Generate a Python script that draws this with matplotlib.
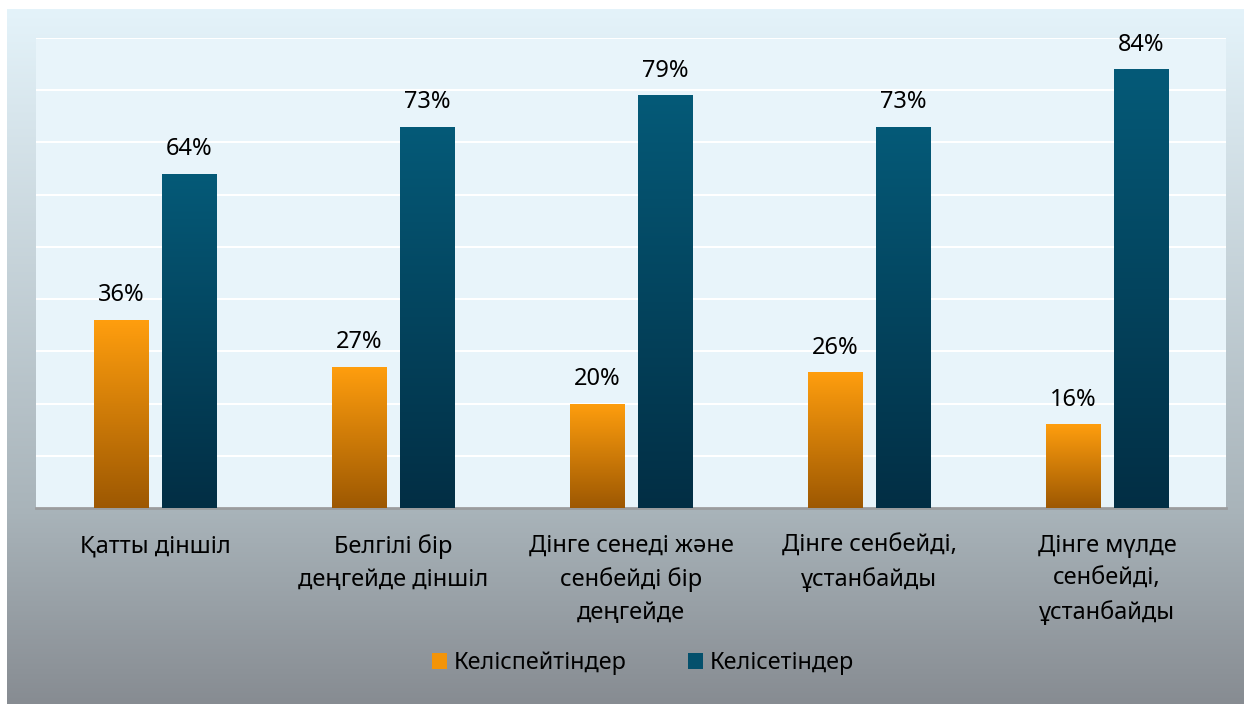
import numpy as np
import matplotlib.pyplot as plt
from matplotlib.colors import LinearSegmentedColormap

plt.rcParams['font.family'] = ['Noto Sans', 'DejaVu Sans']

categories = ['Қатты діншіл', 'Белгілі бір\nдеңгейде діншіл',
              'Дінге сенеді және\nсенбейді бір\nдеңгейде',
              'Дінге сенбейді,\nұстанбайды', 'Дінге мүлде\nсенбейді,\nұстанбайды']
disagree = [36, 27, 20, 26, 16]
agree = [64, 73, 79, 73, 84]
series_names = ['Келіспейтіндер', 'Келісетіндер']

W, H = 1244, 704
fig = plt.figure(figsize=(W / 100, H / 100), dpi=100)
fig.patch.set_facecolor('white')

# outer panel with vertical gradient
bg = fig.add_axes([7 / W, 0, 1 - 7 / W, 1 - 9 / H])
bg_cmap = LinearSegmentedColormap.from_list('bg', [(0, '#e4f3fa'), (0.72, '#a9b4ba'), (1, '#878c92')])
bg.imshow(np.linspace(0, 1, 256).reshape(-1, 1), cmap=bg_cmap, aspect='auto', extent=(0, 1, 1, 0))
bg.set_axis_off()

left, right, top, bottom = 36, 1226, 38, 508
ax = fig.add_axes([left / W, 1 - bottom / H, (right - left) / W, (bottom - top) / H])
ax.set_facecolor('#e8f4fa')
ax.set_yticks(np.arange(0, 91, 10))
ax.yaxis.grid(True, color='white', linewidth=1.5)
ax.set_axisbelow(True)
for s in ['top', 'right', 'left']:
    ax.spines[s].set_visible(False)
ax.spines['bottom'].set_color('#9a9c9e')
ax.spines['bottom'].set_linewidth(2)
ax.tick_params(left=False, labelleft=False, bottom=False, labelbottom=False)

x = np.arange(len(categories))
bw = 0.23
off = (bw + 0.055) / 2
cmaps = [LinearSegmentedColormap.from_list('o', ['#9d5802', '#ff9e0e']),
         LinearSegmentedColormap.from_list('b', ['#022e44', '#055a78'])]
legend_colors = ['#f39408', '#04506c']
grad = np.linspace(0, 1, 256).reshape(-1, 1)

for vals, dx, cm, name, lc in zip([disagree, agree], [-off, off], cmaps, series_names, legend_colors):
    bars = ax.bar(x + dx, vals, bw, color='none', zorder=3)
    for b, v in zip(bars, vals):
        bx, by, bwid, bh = b.get_x(), b.get_y(), b.get_width(), b.get_height()
        im = ax.imshow(grad, cmap=cm, aspect='auto', origin='lower',
                       extent=(bx, bx + bwid, by, by + bh), zorder=3)
        im.set_clip_path(b)
        ax.text(bx + bwid / 2, bh + 2.4, f'{v}%', ha='center', va='bottom', fontsize=17, color='black')
    ax.bar([0], [0], color=lc, label=name)

ax.set_xlim(-0.5, len(categories) - 0.5)
ax.set_ylim(0, 90)

for xi, c in zip(x, categories):
    ax.text(xi, -5.0, c, ha='center', va='top', fontsize=17, linespacing=1.5)

leg = fig.legend(loc='center', bbox_to_anchor=(643 / W, 1 - 663 / H), ncol=2, frameon=False,
                 fontsize=16.8, handlelength=0.65, handleheight=0.65, columnspacing=2.6, handletextpad=0.3)

fig.savefig('out.png', dpi=100, facecolor=fig.get_facecolor())
